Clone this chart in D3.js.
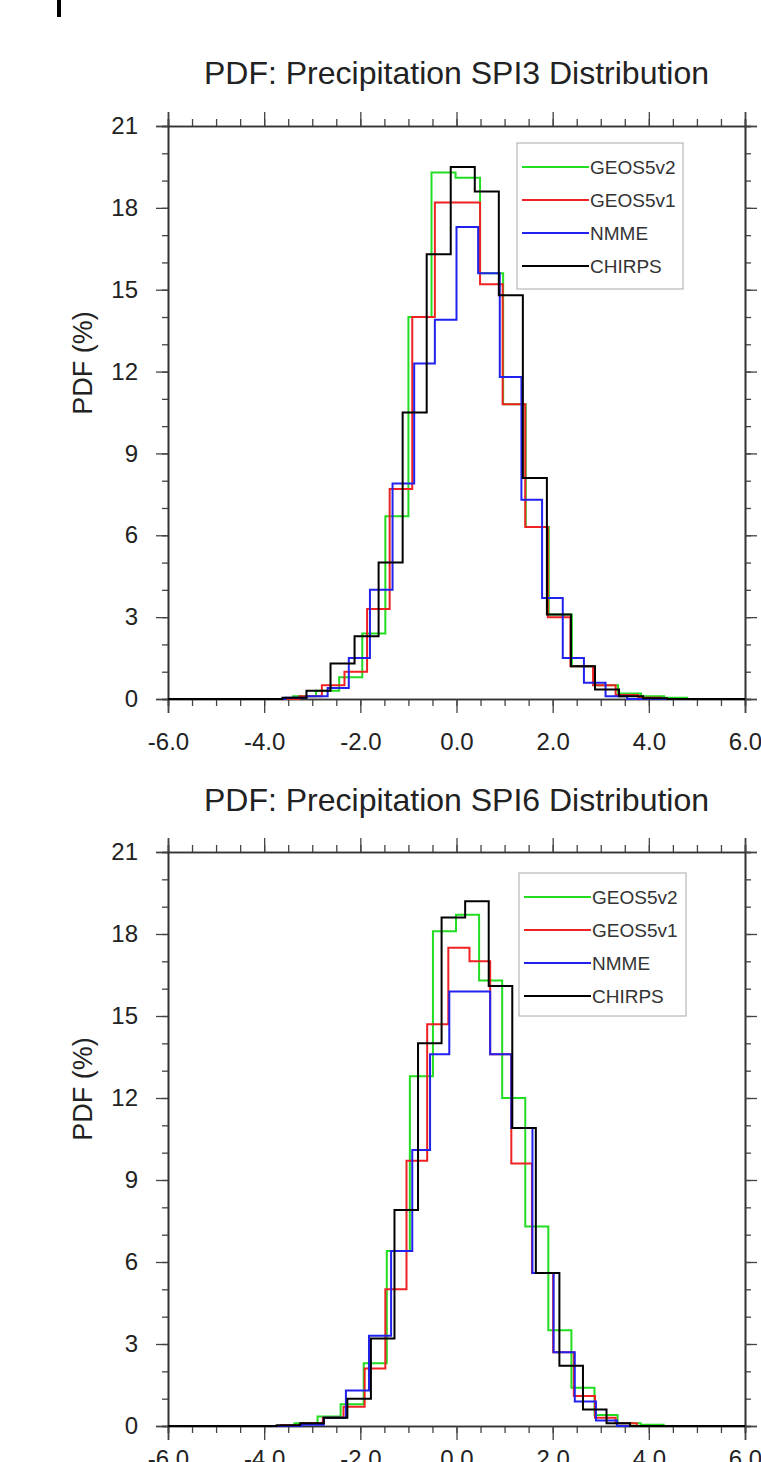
<!DOCTYPE html>
<html>
<head>
<meta charset="utf-8">
<script src="https://cdn.jsdelivr.net/npm/d3@7"></script>
<style>
  html, body { margin: 0; padding: 0; background: #fff; }
  svg { display: block; font-family: "Liberation Sans", Arial, Helvetica, sans-serif; }
</style>
</head>
<body>
<svg id="chart" width="761" height="1462"></svg>
<script>
// ---------------- data ----------------
const seriesNames = ["GEOS5v2", "GEOS5v1", "NMME", "CHIRPS"];
const seriesColors = ["#22dd22", "#ee2222", "#2222ee", "#000000"];
const xTickValues = [-6, -4, -2, 0, 2, 4, 6];
const xTickLabels = ["-6.0", "-4.0", "-2.0", "0.0", "2.0", "4.0", "6.0"];
const yTickValues = [0, 3, 6, 9, 12, 15, 18, 21];
const titles = ["PDF: Precipitation SPI3 Distribution", "PDF: Precipitation SPI6 Distribution"];

// SPI3 panel: bin edges and PDF (%) values per series
const spi3_GEOS5v2_edges = [-3.40,-2.92,-2.44,-1.96,-1.48,-1.00,-0.52,-0.02,0.49,0.97,1.44,1.92,2.40,2.88,3.36,3.84,4.32,4.80];
const spi3_GEOS5v2_pdf   = [0.1,0.3,0.8,2.4,6.7,14.0,19.3,19.1,15.6,10.8,6.3,3.1,1.2,0.5,0.2,0.1,0.05];
const spi3_GEOS5v1_edges = [-3.27,-2.80,-2.33,-1.86,-1.39,-0.92,-0.45,0.02,0.49,0.96,1.43,1.90,2.37,2.84,3.31,3.78,4.25];
const spi3_GEOS5v1_pdf   = [0.1,0.5,1.0,3.3,7.7,14.0,18.2,18.2,15.2,10.8,6.3,3.0,1.2,0.5,0.15,0.05];
const spi3_NMME_edges    = [-3.56,-3.12,-2.68,-2.24,-1.80,-1.33,-0.88,-0.45,0.00,0.45,0.90,1.35,1.78,2.21,2.65,3.10,3.55];
const spi3_NMME_pdf      = [0.05,0.1,0.4,1.5,4.0,7.9,12.3,13.9,17.3,15.6,11.8,7.3,3.7,1.5,0.6,0.1];
const spi3_CHIRPS_edges  = [-3.62,-3.12,-2.62,-2.12,-1.62,-1.12,-0.62,-0.12,0.38,0.88,1.38,1.88,2.38,2.88,3.38,3.88,4.38];
const spi3_CHIRPS_pdf    = [0.05,0.3,1.3,2.3,5.0,10.5,16.3,19.5,18.6,14.8,8.1,3.1,1.2,0.35,0.1,0.03];

// SPI6 panel
const spi6_GEOS5v2_edges = [-3.37,-2.89,-2.41,-1.93,-1.45,-0.97,-0.49,-0.01,0.47,0.95,1.43,1.91,2.39,2.87,3.35,3.83,4.31];
const spi6_GEOS5v2_pdf   = [0.1,0.35,0.8,2.3,6.4,12.8,18.1,18.7,16.3,12.0,7.3,3.5,1.4,0.4,0.1,0.05];
const spi6_GEOS5v1_edges = [-3.65,-3.22,-2.78,-2.35,-1.91,-1.48,-1.04,-0.61,-0.17,0.27,0.70,1.14,1.57,2.01,2.44,2.88,3.31,3.75];
const spi6_GEOS5v1_pdf   = [0.03,0.1,0.3,0.7,2.1,5.0,9.7,14.7,17.5,17.0,13.6,9.6,5.6,2.7,1.1,0.3,0.1];
const spi6_NMME_edges    = [-3.22,-2.76,-2.30,-1.82,-1.36,-0.92,-0.55,-0.15,0.28,0.70,1.14,1.58,2.02,2.46,2.90,3.34];
const spi6_NMME_pdf      = [0.05,0.3,1.3,3.3,6.4,10.1,13.6,15.9,15.9,13.6,10.9,5.6,2.7,0.9,0.2];
const spi6_CHIRPS_edges  = [-3.74,-3.25,-2.76,-2.27,-1.78,-1.29,-0.80,-0.31,0.18,0.67,1.16,1.65,2.14,2.63,3.12,3.61];
const spi6_CHIRPS_pdf    = [0.03,0.1,0.3,1.0,3.2,7.9,14.0,18.6,19.2,16.1,10.9,5.6,2.2,0.6,0.1];

const panels = [
  { title: titles[0],
    series: [
      { edges: spi3_GEOS5v2_edges, pdf: spi3_GEOS5v2_pdf },
      { edges: spi3_GEOS5v1_edges, pdf: spi3_GEOS5v1_pdf },
      { edges: spi3_NMME_edges,    pdf: spi3_NMME_pdf },
      { edges: spi3_CHIRPS_edges,  pdf: spi3_CHIRPS_pdf } ] },
  { title: titles[1],
    series: [
      { edges: spi6_GEOS5v2_edges, pdf: spi6_GEOS5v2_pdf },
      { edges: spi6_GEOS5v1_edges, pdf: spi6_GEOS5v1_pdf },
      { edges: spi6_NMME_edges,    pdf: spi6_NMME_pdf },
      { edges: spi6_CHIRPS_edges,  pdf: spi6_CHIRPS_pdf } ] }
];

// ---------------- layout ----------------
const svg = d3.select("#chart");
const L = 168, R = 745;
const panelLayout = [
  { top: 126, bottom: 699, titleY: 84, xPad: 20, legend: { x: 517, y: 143, w: 166, h: 146 } },
  { top: 852, bottom: 1426, titleY: 811, xPad: 10, legend: { x: 519, y: 873, w: 167, h: 143 } }
];
const textColor = "#222";

// small mark at top-left
svg.append("rect").attr("x", 57).attr("y", 0).attr("width", 4).attr("height", 17).attr("fill", "#000");

panels.forEach((p, pi) => {
  const lay = panelLayout[pi];
  const x = d3.scaleLinear().domain([-6, 6]).range([L, R]);
  const y = d3.scaleLinear().domain([0, 21]).range([lay.bottom, lay.top]);
  const g = svg.append("g");

  // title
  g.append("text").attr("x", (L + R) / 2).attr("y", lay.titleY)
    .attr("text-anchor", "middle").attr("font-size", 32).attr("fill", textColor)
    .text(p.title);

  // y label
  g.append("text")
    .attr("transform", `translate(92,${lay.top + 237}) rotate(-90)`)
    .attr("text-anchor", "middle").attr("font-size", 27).attr("fill", textColor)
    .text("PDF (%)");

  const minorX = d3.range(-6, 6.001, 0.5);
  const minorY = d3.range(0, 21.001, 1);

  // axes (outward ticks on all four sides)
  const axB = d3.axisBottom(x).tickValues(xTickValues).tickFormat((d, i) => xTickLabels[i]).tickSize(14).tickPadding(lay.xPad);
  const axBm = d3.axisBottom(x).tickValues(minorX).tickFormat("").tickSize(7);
  const axT = d3.axisTop(x).tickValues(xTickValues).tickFormat("").tickSize(14);
  const axTm = d3.axisTop(x).tickValues(minorX).tickFormat("").tickSize(7);
  const axL = d3.axisLeft(y).tickValues(yTickValues).tickSize(12).tickPadding(18);
  const axLm = d3.axisLeft(y).tickValues(minorY).tickFormat("").tickSize(6);
  const axR = d3.axisRight(y).tickValues(yTickValues).tickFormat("").tickSize(12);
  const axRm = d3.axisRight(y).tickValues(minorY).tickFormat("").tickSize(6);

  const style = sel => {
    sel.select(".domain").attr("stroke", "#333").attr("stroke-width", 1.6);
    sel.selectAll(".tick line").attr("stroke", "#444").attr("stroke-width", 1.3);
    sel.selectAll(".tick text").attr("fill", textColor).attr("font-size", 24)
      .attr("font-family", "Liberation Sans, Arial, sans-serif");
  };
  g.append("g").attr("transform", `translate(0,${lay.bottom})`).call(axBm).call(style);
  g.append("g").attr("transform", `translate(0,${lay.bottom})`).call(axB).call(style);
  g.append("g").attr("transform", `translate(0,${lay.top})`).call(axTm).call(style);
  g.append("g").attr("transform", `translate(0,${lay.top})`).call(axT).call(style);
  g.append("g").attr("transform", `translate(${L},0)`).call(axLm).call(style);
  g.append("g").attr("transform", `translate(${L},0)`).call(axL).call(style);
  g.append("g").attr("transform", `translate(${R},0)`).call(axRm).call(style);
  g.append("g").attr("transform", `translate(${R},0)`).call(axR).call(style);

  // step histogram lines
  const line = d3.line().x(d => x(d[0])).y(d => y(d[1]));
  p.series.forEach((s, si) => {
    const pts = [[-6, 0], [s.edges[0], 0]];
    s.pdf.forEach((v, i) => { pts.push([s.edges[i], v]); pts.push([s.edges[i + 1], v]); });
    pts.push([s.edges[s.edges.length - 1], 0]);
    pts.push([6, 0]);
    g.append("path").attr("d", line(pts)).attr("fill", "none")
      .attr("stroke", seriesColors[si]).attr("stroke-width", 2).attr("stroke-linejoin", "miter");
  });

  // legend
  const lg = lay.legend;
  const leg = g.append("g");
  leg.append("rect").attr("x", lg.x).attr("y", lg.y).attr("width", lg.w).attr("height", lg.h)
    .attr("fill", "#fff").attr("stroke", "#aaa").attr("stroke-width", 1);
  seriesNames.forEach((name, i) => {
    const ly = lg.y + 24 + i * 33;
    leg.append("line").attr("x1", lg.x + 5).attr("x2", lg.x + 72).attr("y1", ly).attr("y2", ly)
      .attr("stroke", seriesColors[i]).attr("stroke-width", 2);
    leg.append("text").attr("x", lg.x + 73).attr("y", ly + 6.5).attr("font-size", 19)
      .attr("fill", "#333").text(name);
  });
});
</script>
</body>
</html>
